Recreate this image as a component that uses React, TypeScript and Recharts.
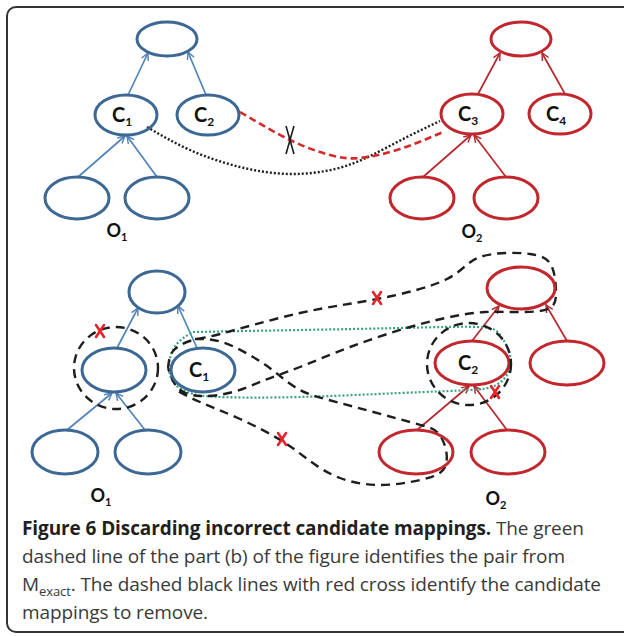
import { ComposedChart, Line, Scatter, XAxis, YAxis } from "recharts";

type Pt = { x: number; y: number };
type Node = { x: number; y: number; kind: string; label?: string; sub?: string };

// ---- part (a) ----
const topBlueNodes: Node[] = [
  { x: 167, y: 39, kind: "root" },
  { x: 126, y: 115, kind: "mid", label: "C", sub: "1" },
  { x: 208, y: 115, kind: "mid", label: "C", sub: "2" },
  { x: 77, y: 198, kind: "leaf" },
  { x: 157, y: 198, kind: "leaf" },
];
const topRedNodes: Node[] = [
  { x: 521, y: 39, kind: "root" },
  { x: 472, y: 114, kind: "mid", label: "C", sub: "3" },
  { x: 560, y: 114, kind: "mid", label: "C", sub: "4" },
  { x: 422, y: 198, kind: "leaf" },
  { x: 506, y: 198, kind: "leaf" },
];
const topBlueEdges: Pt[][] = [
  [{ x: 128, y: 95 }, { x: 148, y: 53 }],
  [{ x: 206, y: 95 }, { x: 188, y: 52 }],
  [{ x: 78, y: 177 }, { x: 125, y: 136 }],
  [{ x: 157, y: 177 }, { x: 127, y: 136 }],
];
const topRedEdges: Pt[][] = [
  [{ x: 478, y: 94 }, { x: 500, y: 53 }],
  [{ x: 565, y: 94 }, { x: 542, y: 53 }],
  [{ x: 423, y: 177 }, { x: 471, y: 135 }],
  [{ x: 506, y: 177 }, { x: 474, y: 135 }],
];
const dottedMatch: Pt[] = [
  { x: 147, y: 127 }, { x: 190, y: 150 }, { x: 240, y: 167 }, { x: 290, y: 174 },
  { x: 335, y: 169 }, { x: 370, y: 156 }, { x: 405, y: 138 }, { x: 440, y: 121 },
];
const dashedMatch: Pt[] = [
  { x: 240, y: 112 }, { x: 290, y: 140 }, { x: 330, y: 155 }, { x: 360, y: 158 },
  { x: 400, y: 149 }, { x: 443, y: 132 },
];
const blackCross: Pt[] = [{ x: 290, y: 140 }];
const topLabels: Node[] = [
  { x: 121, y: 231, kind: "lbl", label: "O", sub: "1" },
  { x: 476, y: 232, kind: "lbl", label: "O", sub: "2" },
];

// ---- part (b) ----
const botBlueNodes: Node[] = [
  { x: 157, y: 292, kind: "broot" },
  { x: 114, y: 370, kind: "bmid" },
  { x: 203, y: 370, kind: "bmid", label: "C", sub: "1" },
  { x: 65, y: 452, kind: "bleaf" },
  { x: 148, y: 452, kind: "bleaf" },
];
const botRedNodes: Node[] = [
  { x: 521, y: 288, kind: "rroot" },
  { x: 472, y: 363, kind: "rmid", label: "C", sub: "2" },
  { x: 567, y: 363, kind: "rmid" },
  { x: 416, y: 452, kind: "rmid" },
  { x: 508, y: 452, kind: "rmid" },
];
const botBlueEdges: Pt[][] = [
  [{ x: 117, y: 348 }, { x: 138, y: 308 }],
  [{ x: 197, y: 348 }, { x: 178, y: 306 }],
  [{ x: 67, y: 430 }, { x: 112, y: 393 }],
  [{ x: 145, y: 430 }, { x: 116, y: 393 }],
];
const botRedEdges: Pt[][] = [
  [{ x: 472, y: 341 }, { x: 499, y: 306 }],
  [{ x: 567, y: 341 }, { x: 546, y: 305 }],
  [{ x: 417, y: 430 }, { x: 469, y: 386 }],
  [{ x: 507, y: 430 }, { x: 474, y: 386 }],
];
const rings: Node[] = [
  { x: 116, y: 368, kind: "ring" },
  { x: 469, y: 364, kind: "ring" },
];
const loopRoot: Pt[] = [
  { x: 168, y: 368 }, { x: 174, y: 350 }, { x: 193, y: 340 }, { x: 220, y: 334 },
  { x: 300, y: 313 }, { x: 377, y: 299 }, { x: 447, y: 279 }, { x: 480, y: 257 },
  { x: 530, y: 254 }, { x: 552, y: 267 }, { x: 556, y: 292 }, { x: 548, y: 309 },
  { x: 515, y: 312 }, { x: 485, y: 312 }, { x: 455, y: 316 }, { x: 410, y: 327 },
  { x: 350, y: 347 }, { x: 300, y: 367 }, { x: 265, y: 380 }, { x: 233, y: 392 },
  { x: 200, y: 396 }, { x: 178, y: 388 }, { x: 168, y: 368 },
];
const loopLeaf: Pt[] = [
  { x: 195, y: 339 }, { x: 222, y: 342 }, { x: 253, y: 357 }, { x: 275, y: 372 },
  { x: 300, y: 390 }, { x: 340, y: 403 }, { x: 410, y: 422 }, { x: 437, y: 432 },
  { x: 446, y: 450 }, { x: 443, y: 470 }, { x: 420, y: 480 }, { x: 380, y: 485 },
  { x: 340, y: 478 }, { x: 310, y: 461 }, { x: 282, y: 441 }, { x: 240, y: 419 },
  { x: 200, y: 402 }, { x: 176, y: 390 },
];
const greenExact: Pt[] = [
  { x: 193, y: 332 }, { x: 300, y: 330 }, { x: 400, y: 328 }, { x: 478, y: 327 },
  { x: 500, y: 335 }, { x: 510, y: 355 }, { x: 507, y: 375 }, { x: 494, y: 386 },
  { x: 470, y: 390 }, { x: 400, y: 393 }, { x: 300, y: 397 }, { x: 220, y: 397 },
  { x: 190, y: 393 }, { x: 174, y: 383 }, { x: 169, y: 365 }, { x: 176, y: 345 },
  { x: 193, y: 332 },
];
const redCrosses: Pt[] = [
  { x: 100, y: 331 }, { x: 377, y: 298 }, { x: 282, y: 439 }, { x: 495, y: 392 },
];
const botLabels: Node[] = [
  { x: 105, y: 496, kind: "lbl", label: "O", sub: "1" },
  { x: 500, y: 499, kind: "lbl", label: "O", sub: "2" },
];

const captionLines = [
  "dashed line of the part (b) of the figure identifies the pair from",
  "The dashed black lines with red cross identify the candidate",
  "mappings to remove.",
];

const SIZE: Record<string, [number, number]> = {
  root: [30, 17], mid: [31, 20], leaf: [32, 21],
  broot: [28, 21], bmid: [32, 22], bleaf: [33, 22],
  rroot: [34, 21], rmid: [37, 22], ring: [42, 41],
};

const BLUE = "#3d6894";
const BLUE_LINE = "#5283bb";
const RED = "#c1272d";
const RED_LINE = "#b8282e";
const INK = "#1e1e1e";
const GREEN = "#34a57c";
const CROSS_RED = "#e8232a";

function makeEllipse(color: string, dash?: string, width = 3) {
  return (props: any) => {
    const { cx, cy, payload } = props;
    const [rx, ry] = SIZE[payload.kind];
    return (
      <g>
        <ellipse cx={cx} cy={cy} rx={rx} ry={ry} fill="none" stroke={color} strokeWidth={width} strokeDasharray={dash} />
        {payload.label && (
          <text x={cx - 4} y={cy + 7} textAnchor="middle" fontFamily="Lato, 'Open Sans', sans-serif" fontWeight={700} fontSize={20} fill="#111">
            {payload.label}
            <tspan fontSize={12} dy={4}>{payload.sub}</tspan>
          </text>
        )}
      </g>
    );
  };
}

const labelShape = (props: any) => {
  const { cx, cy, payload } = props;
  return (
    <text x={cx - 4} y={cy + 6} textAnchor="middle" fontFamily="Lato, 'Open Sans', sans-serif" fontWeight={700} fontSize={18} fill="#111">
      {payload.label}
      <tspan fontSize={11} dy={4}>{payload.sub}</tspan>
    </text>
  );
};

const redCrossShape = (props: any) => {
  const { cx, cy } = props;
  return (
    <g stroke={CROSS_RED} strokeWidth={2.6} strokeLinecap="round">
      <line x1={cx - 4} y1={cy - 6} x2={cx + 4} y2={cy + 6} />
      <line x1={cx + 4} y1={cy - 6} x2={cx - 4} y2={cy + 6} />
    </g>
  );
};

const blackCrossShape = (props: any) => {
  const { cx, cy } = props;
  return (
    <g stroke={INK} strokeWidth={1.6} fill="none">
      <path d={`M${cx - 4},${cy - 14} Q${cx},${cy} ${cx + 4},${cy + 14}`} />
      <path d={`M${cx + 4},${cy - 14} Q${cx},${cy} ${cx - 4},${cy + 14}`} />
    </g>
  );
};

function edgeLines(edges: Pt[][], color: string, marker: string, key: string) {
  return edges.map((d, i) => (
    <Line
      key={`${key}${i}`}
      data={d}
      dataKey="y"
      type="linear"
      stroke={color}
      strokeWidth={1.7}
      dot={false}
      activeDot={false}
      markerEnd={`url(#${marker})`}
      isAnimationActive={false}
    />
  ));
}

export default function App() {
  return (
    <div style={{ position: "absolute", left: 0, top: 0, width: 624, height: 636, overflow: "hidden", background: "#fff" }}>
      <div
        style={{
          position: "absolute", left: 6, top: 6, width: 640, height: 627,
          border: "2px solid #333", borderRadius: 10, boxSizing: "border-box",
        }}
      />
      <ComposedChart width={624} height={636} margin={{ top: 0, right: 0, bottom: 0, left: 0 }} style={{ position: "absolute", left: 0, top: 0 }}>
        <defs>
          <marker id="arrowBlue" viewBox="0 0 10 10" refX="9" refY="5" markerWidth="9" markerHeight="9" markerUnits="userSpaceOnUse" orient="auto">
            <path d="M1,1 L9,5 L1,9" fill="none" stroke={BLUE_LINE} strokeWidth={1.6} />
          </marker>
          <marker id="arrowRed" viewBox="0 0 10 10" refX="9" refY="5" markerWidth="9" markerHeight="9" markerUnits="userSpaceOnUse" orient="auto">
            <path d="M1,1 L9,5 L1,9" fill="none" stroke={RED_LINE} strokeWidth={1.6} />
          </marker>
        </defs>
        <XAxis type="number" dataKey="x" domain={[0, 624]} allowDataOverflow hide />
        <YAxis type="number" dataKey="y" domain={[0, 636]} allowDataOverflow reversed hide />

        {edgeLines(topBlueEdges, BLUE_LINE, "arrowBlue", "tb")}
        {edgeLines(topRedEdges, RED_LINE, "arrowRed", "tr")}
        {edgeLines(botBlueEdges, BLUE_LINE, "arrowBlue", "bb")}
        {edgeLines(botRedEdges, RED_LINE, "arrowRed", "br")}

        <Line data={dottedMatch} dataKey="y" type="natural" stroke={INK} strokeWidth={2.4} strokeDasharray="2 2" dot={false} activeDot={false} isAnimationActive={false} />
        <Line data={dashedMatch} dataKey="y" type="natural" stroke="#d42a2a" strokeWidth={2.6} strokeDasharray="7 4" dot={false} activeDot={false} isAnimationActive={false} />
        <Line data={greenExact} dataKey="y" type="natural" stroke={GREEN} strokeWidth={2.2} strokeDasharray="2 2" dot={false} activeDot={false} isAnimationActive={false} />
        <Line data={loopRoot} dataKey="y" type="natural" stroke={INK} strokeWidth={2.4} strokeDasharray="9 6" dot={false} activeDot={false} isAnimationActive={false} />
        <Line data={loopLeaf} dataKey="y" type="natural" stroke={INK} strokeWidth={2.4} strokeDasharray="9 6" dot={false} activeDot={false} isAnimationActive={false} />

        <Scatter data={topBlueNodes} shape={makeEllipse(BLUE)} isAnimationActive={false} />
        <Scatter data={topRedNodes} shape={makeEllipse(RED)} isAnimationActive={false} />
        <Scatter data={botBlueNodes} shape={makeEllipse(BLUE)} isAnimationActive={false} />
        <Scatter data={botRedNodes} shape={makeEllipse(RED)} isAnimationActive={false} />
        <Scatter data={rings} shape={makeEllipse(INK, "9 6", 2.4)} isAnimationActive={false} />
        <Scatter data={topLabels} shape={labelShape} isAnimationActive={false} />
        <Scatter data={botLabels} shape={labelShape} isAnimationActive={false} />
        <Scatter data={blackCross} shape={blackCrossShape} isAnimationActive={false} />
        <Scatter data={redCrosses} shape={redCrossShape} isAnimationActive={false} />
      </ComposedChart>
      <div
        style={{
          position: "absolute", left: 22, top: 514, fontFamily: "'Open Sans', sans-serif",
          fontSize: 19, lineHeight: "28px", color: "#3a3a3a", whiteSpace: "nowrap", letterSpacing: -0.1,
        }}
      >
        <div>
          <span style={{ fontWeight: 700, color: "#231f20" }}>Figure 6 Discarding incorrect candidate mappings.</span> The green
        </div>
        <div>{captionLines[0]}</div>
        <div>
          M<sub style={{ fontSize: 13, lineHeight: 0 }}>exact</sub>. {captionLines[1]}
        </div>
        <div>{captionLines[2]}</div>
      </div>
    </div>
  );
}
